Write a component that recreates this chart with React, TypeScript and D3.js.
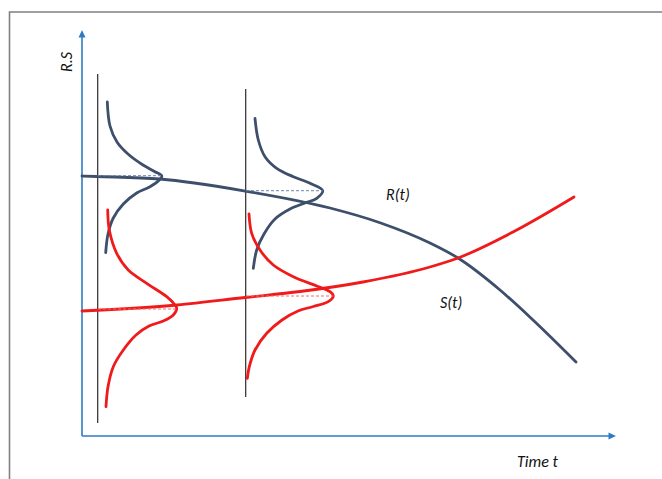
import React from "react";
import * as d3 from "d3";

// Schematic stress–strength interference chart (arbitrary units)
// R(t): strength, decreasing over time
const rCurve: [number, number][] = [
  [0, 26.0], [1.5, 25.95], [7.8, 25.7], [16.3, 24.5], [24.8, 22.8], [29.8, 21.33],
  [34.8, 19.3], [37.6, 17.8], [41.8, 14.6], [45.1, 11.6], [49.4, 7.4],
];
// S(t): stress, increasing over time
const sCurve: [number, number][] = [
  [0, 12.5], [9.5, 13.1], [16.3, 13.85], [21.8, 14.45], [28.1, 15.4], [34.8, 16.9],
  [37.6, 17.8], [43.1, 20.4], [49.2, 23.9],
];
// Distribution of R at time t1
const rDist1: [number, number][] = [
  [2.53, 33.4], [2.8, 31.0], [3.5, 29.4], [4.6, 28.2], [6.1, 27.1], [7.3, 26.43], [7.98, 26.0],
  [7.73, 25.6], [6.8, 24.93], [5.47, 24.3], [4.13, 23.2], [3.13, 21.8], [2.6, 20.2], [2.37, 18.33],
];
// Distribution of S at time t1
const sDist1: [number, number][] = [
  [2.57, 22.6], [2.73, 20.6], [3.47, 18.27], [4.63, 16.6], [6.47, 15.27], [8.47, 13.93],
  [9.3, 13.1], [9.47, 12.77], [9.13, 12.1], [8.13, 11.5], [6.7, 11.0], [5.4, 10.1],
  [4.13, 8.6], [3.13, 6.93], [2.6, 4.93], [2.4, 2.93],
];
// Distribution of R at time t2
const rDist2: [number, number][] = [
  [17.3, 31.77], [17.63, 29.6], [18.3, 27.93], [19.47, 26.77], [21.13, 25.93], [22.8, 25.27],
  [24.07, 24.53], [23.47, 23.77], [22.3, 23.3], [20.8, 22.7], [19.3, 21.7], [18.2, 20.2],
  [17.47, 18.6], [17.13, 16.77],
];
// Distribution of S at time t2
const sDist2: [number, number][] = [
  [16.7, 22.2], [16.97, 20.27], [17.8, 18.6], [19.13, 17.1], [21.13, 15.93], [23.47, 15.0],
  [24.8, 14.43], [25.13, 14.0], [24.63, 13.43], [23.13, 12.95], [21.6, 12.5], [20.0, 11.6],
  [18.47, 10.27], [17.3, 8.6], [16.73, 6.93], [16.53, 5.77],
];
// time instants (vertical lines): [t, yLow, yHigh]
const timeLines: [number, number, number][] = [
  [1.57, 1.3, 36.2],
  [16.37, 3.9, 34.7],
];
// mean markers (dashed): [tStart, tEnd, value, series]
const meanLines: [number, number, number, string][] = [
  [1.6, 7.98, 26.03, "R"],
  [1.6, 9.45, 12.7, "S"],
  [16.4, 24.07, 24.53, "R"],
  [16.4, 25.13, 14.0, "S"],
];
const labels = { r: "R(t)", s: "S(t)", x: "Time t", y: "R.S" };

const W = 662;
const H = 479;
const RCOL = "#3d4f6b";
const SCOL = "#f01a1a";
const AXCOL = "#2e7bc4";
const FONT = "Carlito, Lato, 'Open Sans', sans-serif";

export default function App() {
  const x = d3.scaleLinear().domain([0, 53.4]).range([82, 616]);
  const y = d3.scaleLinear().domain([0, 40.6]).range([436, 30]);

  const mainLine = d3
    .line<[number, number]>()
    .x((d) => x(d[0]))
    .y((d) => y(d[1]))
    .curve(d3.curveMonotoneX);
  const distLine = d3
    .line<[number, number]>()
    .x((d) => x(d[0]))
    .y((d) => y(d[1]))
    .curve(d3.curveCatmullRom.alpha(0.5));

  const x0 = x(0);
  const y0 = y(0);
  const yTop = y(40.6);
  const xEnd = x(53.4);

  return (
    <div style={{ position: "absolute", left: 0, top: 0 }}>
      <svg width={W} height={H} style={{ display: "block", background: "#fff" }}>
        {/* frame */}
        <path d={`M9.5,${H} L9.5,12 L${W},12`} fill="none" stroke="#808080" strokeWidth={1.6} />

        {/* time instant lines */}
        {timeLines.map(([t, lo, hi], i) => (
          <line key={i} x1={x(t)} x2={x(t)} y1={y(lo)} y2={y(hi)} stroke="#2b2b2b" strokeWidth={1.2} />
        ))}

        {/* axes */}
        <line x1={x0} y1={y0} x2={x0} y2={yTop + 6} stroke={AXCOL} strokeWidth={1.6} />
        <path d={`M${x0},${yTop} L${x0 - 3.5},${yTop + 7.5} L${x0 + 3.5},${yTop + 7.5} Z`} fill={AXCOL} />
        <line x1={x0} y1={y0} x2={xEnd - 6} y2={y0} stroke={AXCOL} strokeWidth={1.6} />
        <path d={`M${xEnd},${y0} L${xEnd - 7.5},${y0 - 3.5} L${xEnd - 7.5},${y0 + 3.5} Z`} fill={AXCOL} />

        {/* distributions */}
        <path d={distLine(rDist1) || ""} fill="none" stroke={RCOL} strokeWidth={2.8} strokeLinecap="round" />
        <path d={distLine(rDist2) || ""} fill="none" stroke={RCOL} strokeWidth={2.8} strokeLinecap="round" />
        <path d={distLine(sDist1) || ""} fill="none" stroke={SCOL} strokeWidth={2.8} strokeLinecap="round" />
        <path d={distLine(sDist2) || ""} fill="none" stroke={SCOL} strokeWidth={2.8} strokeLinecap="round" />

        {/* main curves */}
        <path d={mainLine(rCurve) || ""} fill="none" stroke={RCOL} strokeWidth={2.8} strokeLinecap="round" />
        <path d={mainLine(sCurve) || ""} fill="none" stroke={SCOL} strokeWidth={2.8} strokeLinecap="round" />

        {/* mean dashed lines */}
        {meanLines.map(([a, b, v, s], i) => (
          <line
            key={i}
            x1={x(a)}
            x2={x(b)}
            y1={y(v)}
            y2={y(v)}
            stroke={s === "R" ? "#6a86ad" : "#f46a6a"}
            strokeWidth={1}
            strokeDasharray="3,2"
          />
        ))}

        {/* labels */}
        <text x={386} y={200} fontFamily={FONT} fontStyle="italic" fontSize={16} fill="#111">
          {labels.r}
        </text>
        <text x={440} y={308} fontFamily={FONT} fontStyle="italic" fontSize={16} fill="#111">
          {labels.s}
        </text>
        <text x={517} y={467} fontFamily={FONT} fontStyle="italic" fontSize={16} fill="#111">
          {labels.x}
        </text>
        <text
          transform="translate(72,62) rotate(-90)"
          textAnchor="middle"
          fontFamily={FONT}
          fontStyle="italic"
          fontSize={16}
          fill="#111"
        >
          {labels.y}
        </text>
      </svg>
    </div>
  );
}
